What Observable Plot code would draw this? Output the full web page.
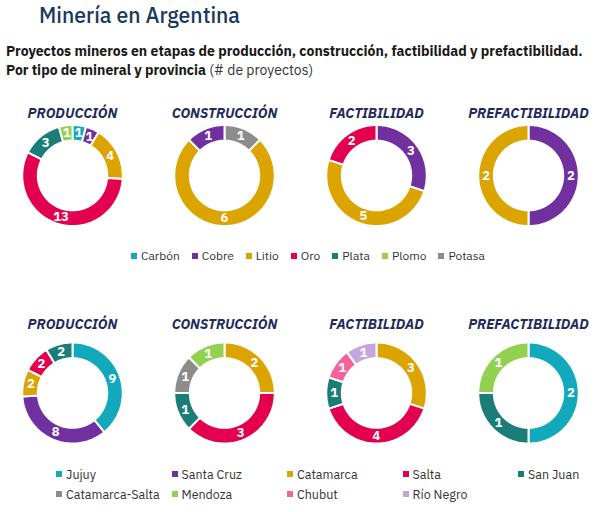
<!DOCTYPE html>
<html lang="es"><head><meta charset="utf-8">
<script src="https://cdn.jsdelivr.net/npm/d3@7"></script>
<script src="https://cdn.jsdelivr.net/npm/@observablehq/plot@0.6"></script>
<style>
  body { margin: 0; width: 616px; height: 512px; position: relative; background: #fff;
         font-family: "IBM Plex Sans", Roboto, "Noto Sans", sans-serif; color: #222; overflow: hidden; }
  .abs { position: absolute; }
  #title { left: 39px; top: 2.5px; font-size: 22px; line-height: 24px; color: #17395c; font-weight: 500;
           white-space: nowrap; transform-origin: left center; }
  #subtitle { left: 6px; top: 42px; font-size: 14px; line-height: 19px; font-weight: 700; color: #1a1a1a; white-space: nowrap; }
  #subtitle .unit { font-weight: 400; color: #333; }
  .row { left: -6px; }
  #row1 { top: 95px; }
  #row2 { top: 306px; }
  #legend1 { left: 0; width: 616px; top: 248px; display: flex; justify-content: center; gap: 12px;
             font-size: 12px; line-height: 16px; color: #333; }
  #legend2 { left: 56px; top: 464px; display: grid; grid-template-columns: repeat(5, 115.5px);
             grid-auto-rows: 20px; font-size: 12.5px; line-height: 16px; color: #333; }
  .item { display: flex; align-items: center; white-space: nowrap; }
  .sw { width: 6px; height: 6px; margin-right: 4px; flex: none; }
</style></head>
<body>
<div id="title" class="abs">Minería en Argentina</div>
<div id="subtitle" class="abs">Proyectos mineros en etapas de producción, construcción, factibilidad y prefactibilidad.<br>Por tipo de mineral y provincia <span class="unit">(# de proyectos)</span></div>
<div id="row1" class="abs row"></div>
<div id="legend1" class="abs"></div>
<div id="row2" class="abs row"></div>
<div id="legend2" class="abs"></div>
<script>
// Stages shown as columns
const stages = ["PRODUCCIÓN", "CONSTRUCCIÓN", "FACTIBILIDAD", "PREFACTIBILIDAD"];

// Mineral categories and their colours
const minerals = ["Carbón", "Cobre", "Litio", "Oro", "Plata", "Plomo", "Potasa"];
const mineralColors = ["#13a9bc", "#7030a0", "#dca400", "#e3004f", "#1b7d77", "#92d050", "#8c8c8c"];

// Province categories and their colours
const provinces = ["Jujuy", "Santa Cruz", "Catamarca", "Salta", "San Juan",
                   "Catamarca-Salta", "Mendoza", "Chubut", "Río Negro"];
const provinceColors = ["#13a9bc", "#7030a0", "#dca400", "#e3004f", "#1b7d77",
                        "#8c8c8c", "#92d050", "#f5619b", "#c4a6dd"];

// Projects per mineral, clockwise from 12 o'clock
const produccionMineral     = [["Carbón", 1], ["Cobre", 1], ["Litio", 4], ["Oro", 13], ["Plata", 3], ["Plomo", 1]];
const construccionMineral   = [["Potasa", 1], ["Litio", 6], ["Cobre", 1]];
const factibilidadMineral   = [["Cobre", 3], ["Litio", 5], ["Oro", 2]];
const prefactibilidadMineral = [["Cobre", 2], ["Litio", 2]];

// Projects per province, clockwise from 12 o'clock
const produccionProvincia     = [["Jujuy", 9], ["Santa Cruz", 8], ["Catamarca", 2], ["Salta", 2], ["San Juan", 2]];
const construccionProvincia   = [["Catamarca", 2], ["Salta", 3], ["San Juan", 1], ["Catamarca-Salta", 1], ["Mendoza", 1]];
const factibilidadProvincia   = [["Catamarca", 3], ["Salta", 4], ["San Juan", 1], ["Chubut", 1], ["Río Negro", 1]];
const prefactibilidadProvincia = [["Jujuy", 2], ["San Juan", 1], ["Mendoza", 1]];

// Ring geometry in units of the outer radius
const INNER = 0.69;
const LABEL_R = 0.845;
const UNIT_PX = 50.5;      // pixels per unit (outer radius)
const WIDTH = 611;

// Fit the heading to its column width
const titleEl = document.getElementById("title");
titleEl.style.transform = `scaleX(${201 / titleEl.getBoundingClientRect().width})`;

function ringPieces(byStage) {
  const pie = d3.pie().sort(null).value(d => d[1]);
  const outline = [], labels = [];
  byStage.forEach((rows, i) => {
    const stage = stages[i];
    for (const a of pie(rows)) {
      const name = a.data[0];
      const n = Math.max(2, Math.ceil((a.endAngle - a.startAngle) / (Math.PI / 120)));
      for (let k = 0; k <= n; k++) {
        const t = a.startAngle + (a.endAngle - a.startAngle) * k / n;
        outline.push({stage, name, x: Math.sin(t), y: Math.cos(t)});
      }
      for (let k = n; k >= 0; k--) {
        const t = a.startAngle + (a.endAngle - a.startAngle) * k / n;
        outline.push({stage, name, x: INNER * Math.sin(t), y: INNER * Math.cos(t)});
      }
      const mid = (a.startAngle + a.endAngle) / 2;
      labels.push({stage, name, value: a.data[1], x: LABEL_R * Math.sin(mid), y: LABEL_R * Math.cos(mid)});
    }
  });
  return {outline, labels};
}

function donutRow(byStage, names, colors, {height, centerFromTop, titleDy}) {
  const {outline, labels} = ringPieces(byStage);
  const band = WIDTH / stages.length;
  const rx = band / 2 / UNIT_PX;
  return Plot.plot({
    width: WIDTH,
    height,
    marginTop: 0, marginBottom: 0, marginLeft: 0, marginRight: 0,
    style: {fontFamily: '"IBM Plex Sans", Roboto, sans-serif', background: "transparent"},
    fx: {domain: stages, padding: 0, axis: null},
    x: {domain: [-rx, rx], axis: null},
    y: {domain: [-(height - centerFromTop) / UNIT_PX, centerFromTop / UNIT_PX], axis: null},
    color: {domain: names, range: colors},
    marks: [
      Plot.line(outline, {
        fx: "stage", x: "x", y: "y", z: "name", fill: "name",
        stroke: "white", strokeWidth: 2, strokeLinejoin: "miter", curve: "linear-closed"
      }),
      Plot.text(labels, {
        fx: "stage", x: "x", y: "y", text: "value",
        fill: "white", fontSize: 13, fontWeight: "bold"
      }),
      Plot.text(stages, {
        fx: d => d, text: d => d, frameAnchor: "top", dy: titleDy,
        fontSize: 14, fontWeight: "bold", fontStyle: "italic", fill: "#1f2b5b"
      })
    ]
  });
}

document.getElementById("row1").appendChild(donutRow(
  [produccionMineral, construccionMineral, factibilidadMineral, prefactibilidadMineral],
  minerals, mineralColors, {height: 145, centerFromTop: 80, titleDy: 12.7}));

document.getElementById("row2").appendChild(donutRow(
  [produccionProvincia, construccionProvincia, factibilidadProvincia, prefactibilidadProvincia],
  provinces, provinceColors, {height: 152, centerFromTop: 86.5, titleDy: 12.7}));

function legend(el, names, colors) {
  names.forEach((name, i) => {
    const item = document.createElement("div");
    item.className = "item";
    const sw = document.createElement("span");
    sw.className = "sw";
    sw.style.background = colors[i];
    item.appendChild(sw);
    item.appendChild(document.createTextNode(name));
    el.appendChild(item);
  });
}
legend(document.getElementById("legend1"), minerals, mineralColors);
legend(document.getElementById("legend2"), provinces, provinceColors);
</script>
</body></html>
